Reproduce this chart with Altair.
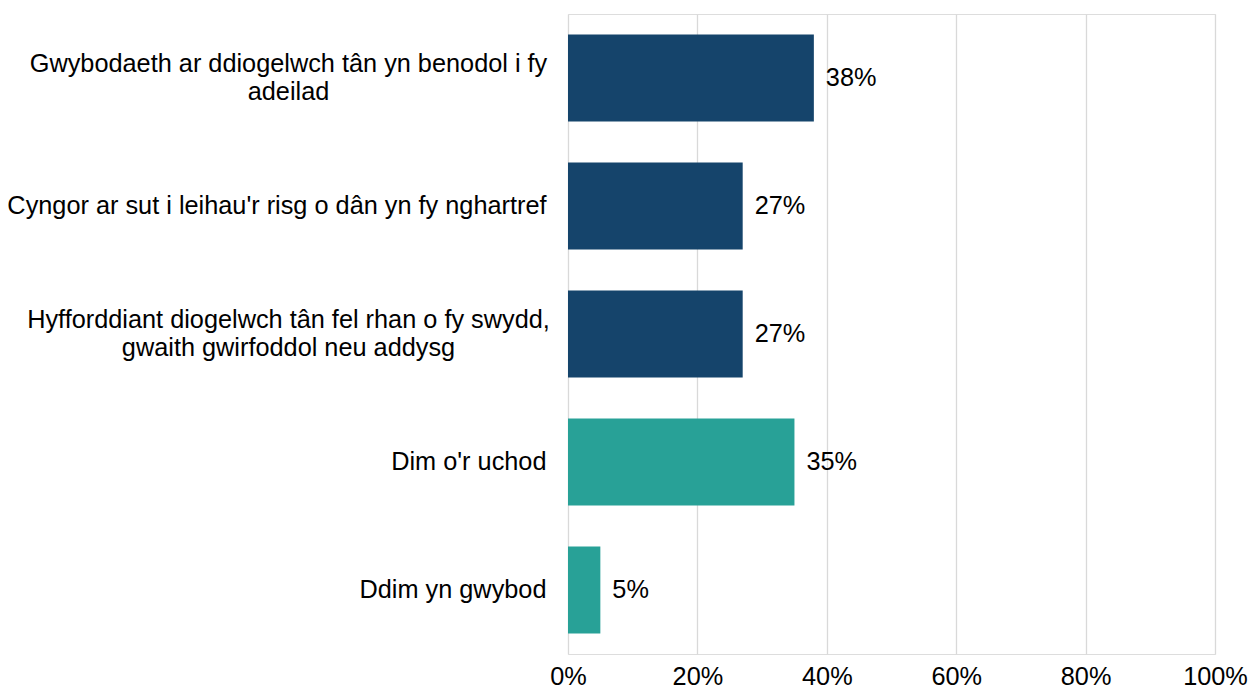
import altair as alt
import pandas as pd

categories = [
    "Gwybodaeth ar ddiogelwch tân yn benodol i fy|adeilad",
    "Cyngor ar sut i leihau'r risg o dân yn fy nghartref",
    "Hyfforddiant diogelwch tân fel rhan o fy swydd,|gwaith gwirfoddol neu addysg",
    "Dim o'r uchod",
    "Ddim yn gwybod",
]
values = [38, 27, 27, 35, 5]
groups = ["knowledge", "knowledge", "knowledge", "none", "none"]
x_ticks = [0, 20, 40, 60, 80, 100]

df = pd.DataFrame({
    "category": categories,
    "value": values,
    "group": groups,
    "label": [f"{v}%" for v in values],
})

FONT = "Liberation Sans"
FS = 25.3
MULTI = "indexof(datum.value, '|') >= 0"

y_enc = alt.Y(
    "category:N",
    sort=categories,
    title=None,
    scale=alt.Scale(paddingInner=0.32, paddingOuter=0.16),
    axis=alt.Axis(
        domain=False,
        ticks=False,
        grid=False,
        labelFontSize=FS,
        labelColor="#000000",
        labelFont=FONT,
        labelLimit=0,
        labelLineHeight=28,
        labelExpr="split(datum.value, '|')",
        labelAlign={"condition": {"test": MULTI, "value": "center"}, "value": "right"},
        labelPadding={"condition": {"test": MULTI, "value": 280}, "value": 22},
        labelOffset={"condition": {"test": MULTI, "value": -14}, "value": 0},
    ),
)

x_enc = alt.X(
    "value:Q",
    title=None,
    scale=alt.Scale(domain=[0, 100]),
    axis=alt.Axis(
        values=x_ticks,
        labelExpr="datum.value + '%'",
        domain=False,
        ticks=False,
        grid=True,
        gridColor="#d9d9d9",
        gridWidth=1.3,
        labelFontSize=FS,
        labelColor="#000000",
        labelFont=FONT,
        labelPadding=10,
        labelFlush=False,
    ),
)

bars = alt.Chart(df).mark_bar(size=87).encode(
    x=x_enc,
    y=y_enc,
    color=alt.Color(
        "group:N",
        scale=alt.Scale(domain=["knowledge", "none"], range=["#15446b", "#28a197"]),
        legend=None,
    ),
)

text = alt.Chart(df).mark_text(
    align="left", baseline="middle", dx=12, fontSize=FS, font=FONT, color="#000000"
).encode(
    x="value:Q",
    y=alt.Y("category:N", sort=categories),
    text="label:N",
)

chart = (
    alt.layer(bars, text)
    .properties(
        width=647,
        height=640,
        autosize=alt.AutoSizeParams(type="none"),
        padding={"left": 560, "right": 33, "top": 6, "bottom": 40},
    )
    .configure_view(stroke="transparent", strokeWidth=0)
    .configure(font=FONT)
)

chart.save("out.html", embed_options={"renderer": "svg", "actions": False})
